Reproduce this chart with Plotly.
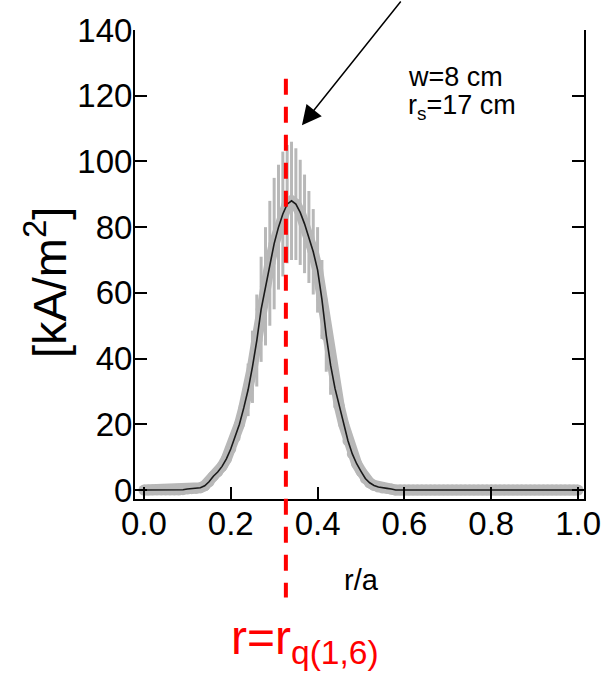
import plotly.graph_objects as go

# ---- data ----
r = [round(i * 0.01, 2) for i in range(101)]
j_vals = ([0.0] * 9 +
          [0.1, 0.3, 0.4, 0.5, 0.7, 1.3, 2.5, 4.2, 5.5, 7.2, 9.5,
           12.5, 16.0, 20.0, 25.0, 30.5, 37.5, 45.5, 55.0, 62.0, 69.0,
           75.0, 80.0, 84.0, 87.0, 88.0, 87.0, 84.5, 81.0, 77.0, 72.5,
           67.0, 58.0, 47.0, 38.0, 31.0, 25.5, 20.0, 15.0, 11.0, 8.0,
           5.7, 3.5, 2.2, 1.4, 0.9, 0.6, 0.5, 0.3] +
          [0.0] * 43)
j_err = ([0.0] * 24 +
         [8, 11, 14, 16, 18, 19, 20, 19, 19, 18, 18, 17, 16, 15, 14, 13,
          13, 12, 11, 9, 6] +
         [0.0] * 56)
r_q16 = 0.327
arrow_tip = (0.364, 111.0)
x_ticks = [0.0, 0.2, 0.4, 0.6, 0.8, 1.0]
x_ticktext = ["0.0", "0.2", "0.4", "0.6", "0.8", "1.0"]
y_ticks = [0, 20, 40, 60, 80, 100, 120, 140]

W, H = 613, 673
L, R, T, B = 135, 23, 28, 174
PW, PH = W - L - R, H - T - B


def px(xp):
    return (xp - L) / PW


def py(yp):
    return (H - B - yp) / PH


FONT = "Liberation Sans, Arial, sans-serif"
GRAY = "rgb(184,184,184)"

fig = go.Figure()
fig.add_trace(go.Scatter(
    x=r, y=j_vals, mode="lines+markers",
    line=dict(color=GRAY, width=11),
    marker=dict(color=GRAY, size=11),
    error_y=dict(type="data", array=j_err, visible=True,
                 color=GRAY, thickness=3, width=0),
    hoverinfo="skip", showlegend=False))
fig.add_trace(go.Scatter(
    x=r, y=j_vals, mode="lines",
    line=dict(color="#1a1a1a", width=1.6),
    showlegend=False))

fig.add_shape(type="line", xref="x", yref="paper",
              x0=r_q16, x1=r_q16, y0=py(77), y1=py(598),
              line=dict(color="#ff0000", width=4, dash="16px,12px"))

fig.add_annotation(x=arrow_tip[0], y=arrow_tip[1], xref="x", yref="y",
                   ax=100, ay=-130, text="", showarrow=True,
                   arrowhead=2, arrowsize=2.6, arrowwidth=1.5,
                   arrowcolor="black")

fig.add_annotation(xref="paper", yref="paper", x=px(410), y=py(75),
                   xanchor="left", yanchor="middle", showarrow=False,
                   text="w=8 cm", font=dict(size=27, color="black", family=FONT))
fig.add_annotation(xref="paper", yref="paper", x=px(410), y=py(105),
                   xanchor="left", yanchor="middle", showarrow=False,
                   text="r<sub>s</sub>=17 cm",
                   font=dict(size=27, color="black", family=FONT))
fig.add_annotation(xref="paper", yref="paper", x=px(365), y=py(580),
                   xanchor="center", yanchor="middle", showarrow=False,
                   text="r/a", font=dict(size=29, color="black", family=FONT))
fig.add_annotation(xref="paper", yref="paper", x=px(45), y=py(282),
                   xanchor="center", yanchor="middle", showarrow=False,
                   textangle=-90, text="[kA/m<sup>2</sup>]",
                   font=dict(size=47, color="black", family=FONT))
fig.add_annotation(xref="paper", yref="paper", x=px(307), y=py(642),
                   xanchor="center", yanchor="middle", showarrow=False,
                   text="r=r<sub>q(1,6)</sub>",
                   font=dict(size=48, color="#ff0000", family=FONT))

fig.update_layout(
    width=W, height=H,
    margin=dict(l=L, r=R, t=T, b=B, pad=0),
    paper_bgcolor="white", plot_bgcolor="white",
    font=dict(family=FONT, color="black"),
    xaxis=dict(range=[-0.0205, 1.0136], tickvals=x_ticks, ticktext=x_ticktext,
               ticks="inside", ticklen=12, tickwidth=2, tickcolor="black",
               showline=True, linecolor="black", linewidth=2, mirror=False,
               showgrid=False, zeroline=False, ticklabelstandoff=-6,
               tickfont=dict(size=33, family=FONT, color="black")),
    yaxis=dict(range=[-2.73, 140], tickvals=y_ticks,
               ticks="inside", ticklen=12, tickwidth=2, tickcolor="black",
               showline=True, linecolor="black", linewidth=2, mirror="ticks",
               showgrid=False, zeroline=False, ticklabelstandoff=-6,
               tickfont=dict(size=33, family=FONT, color="black")),
)

fig.write_html("out.html", config={"displayModeBar": False},
               post_script="document.body.style.margin='0px';"
                           "document.body.style.overflow='hidden';")
